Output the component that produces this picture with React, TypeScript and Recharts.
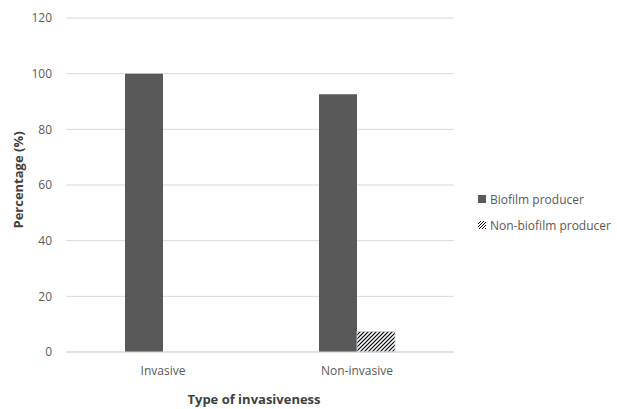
import { BarChart, Bar, XAxis, YAxis, CartesianGrid, Label } from "recharts";

const categories = ["Invasive", "Non-invasive"];
const biofilm = [100, 92.6];
const nonBiofilm = [0, 7.4];
const yTicks = [0, 20, 40, 60, 80, 100, 120];

const data = categories.map((name, i) => ({
  name,
  biofilm: biofilm[i],
  nonBiofilm: nonBiofilm[i],
}));

const font = "'Open Sans', sans-serif";
const grey = "#595959";

function LegendBox() {
  const items = [
    { label: "Biofilm producer", fill: grey },
    { label: "Non-biofilm producer", fill: "url(#hatchLegend)" },
  ];
  return (
    <div
      style={{
        position: "absolute",
        left: 478,
        top: 186,
        fontFamily: font,
        fontSize: 12,
        color: grey,
      }}
    >
      <svg width={0} height={0} style={{ position: "absolute" }}>
        <defs>
          <pattern id="hatchLegend" patternUnits="userSpaceOnUse" width={3} height={3}>
            <rect width={3} height={3} fill="#fff" />
            <path d="M-1,1 l2,-2 M0,3 l3,-3 M2,4 l2,-2" stroke="#000" strokeWidth={1} />
          </pattern>
        </defs>
      </svg>
      {items.map((it) => (
        <div key={it.label} style={{ display: "flex", alignItems: "center", height: 26 }}>
          <svg width={8} height={8} style={{ marginRight: 4 }}>
            <rect x={0} y={0} width={8} height={8} fill={it.fill} />
          </svg>
          <span>{it.label}</span>
        </div>
      ))}
    </div>
  );
}

export default function App() {
  return (
    <div style={{ position: "absolute", left: 0, top: 0, width: 617, height: 409, background: "#fff" }}>
      <BarChart
        width={617}
        height={409}
        data={data}
        margin={{ top: 18, right: 163, bottom: 27, left: 16 }}
        barCategoryGap="30%"
        barGap={0}
      >
        <defs>
          <pattern id="hatch" patternUnits="userSpaceOnUse" width={4} height={4}>
            <rect width={4} height={4} fill="#fff" />
            <path d="M-1,1 l2,-2 M0,4 l4,-4 M3,5 l2,-2" stroke="#000" strokeWidth={1.2} />
          </pattern>
        </defs>
        <CartesianGrid vertical={false} stroke="#d9d9d9" />
        <XAxis
          dataKey="name"
          height={30}
          tickLine={false}
          axisLine={{ stroke: "#d9d9d9" }}
          tickMargin={8}
          tick={{ fill: grey, fontSize: 12, fontFamily: font }}
        >
          <Label
            content={({ viewBox }: any) => (
              <text
                x={viewBox.x + viewBox.width / 2 - 6}
                y={404}
                textAnchor="middle"
                fontFamily={font}
                fontSize={13}
                fontWeight="bold"
                fill="#404040"
              >
                Type of invasiveness
              </text>
            )}
          />
        </XAxis>
        <YAxis
          width={50}
          domain={[0, 120]}
          ticks={yTicks}
          interval={0}
          axisLine={false}
          tickLine={false}
          tickMargin={8}
          tick={{ fill: grey, fontSize: 12, fontFamily: font }}
        >
          <Label
            content={({ viewBox }: any) => {
              const cx = 23;
              const cy = viewBox.y + viewBox.height / 2 - 5;
              return (
                <text
                  x={cx}
                  y={cy}
                  transform={`rotate(-90, ${cx}, ${cy})`}
                  textAnchor="middle"
                  fontFamily={font}
                  fontSize={13}
                  fontWeight="bold"
                  fill="#404040"
                >
                  Percentage (%)
                </text>
              );
            }}
          />
        </YAxis>
        <Bar dataKey="biofilm" name="Biofilm producer" fill={grey} barSize={38} isAnimationActive={false} />
        <Bar
          dataKey="nonBiofilm"
          name="Non-biofilm producer"
          fill="url(#hatch)"
          stroke="#bdd7ee"
          strokeWidth={0.8}
          barSize={38}
          isAnimationActive={false}
        />
      </BarChart>
      <LegendBox />
    </div>
  );
}
